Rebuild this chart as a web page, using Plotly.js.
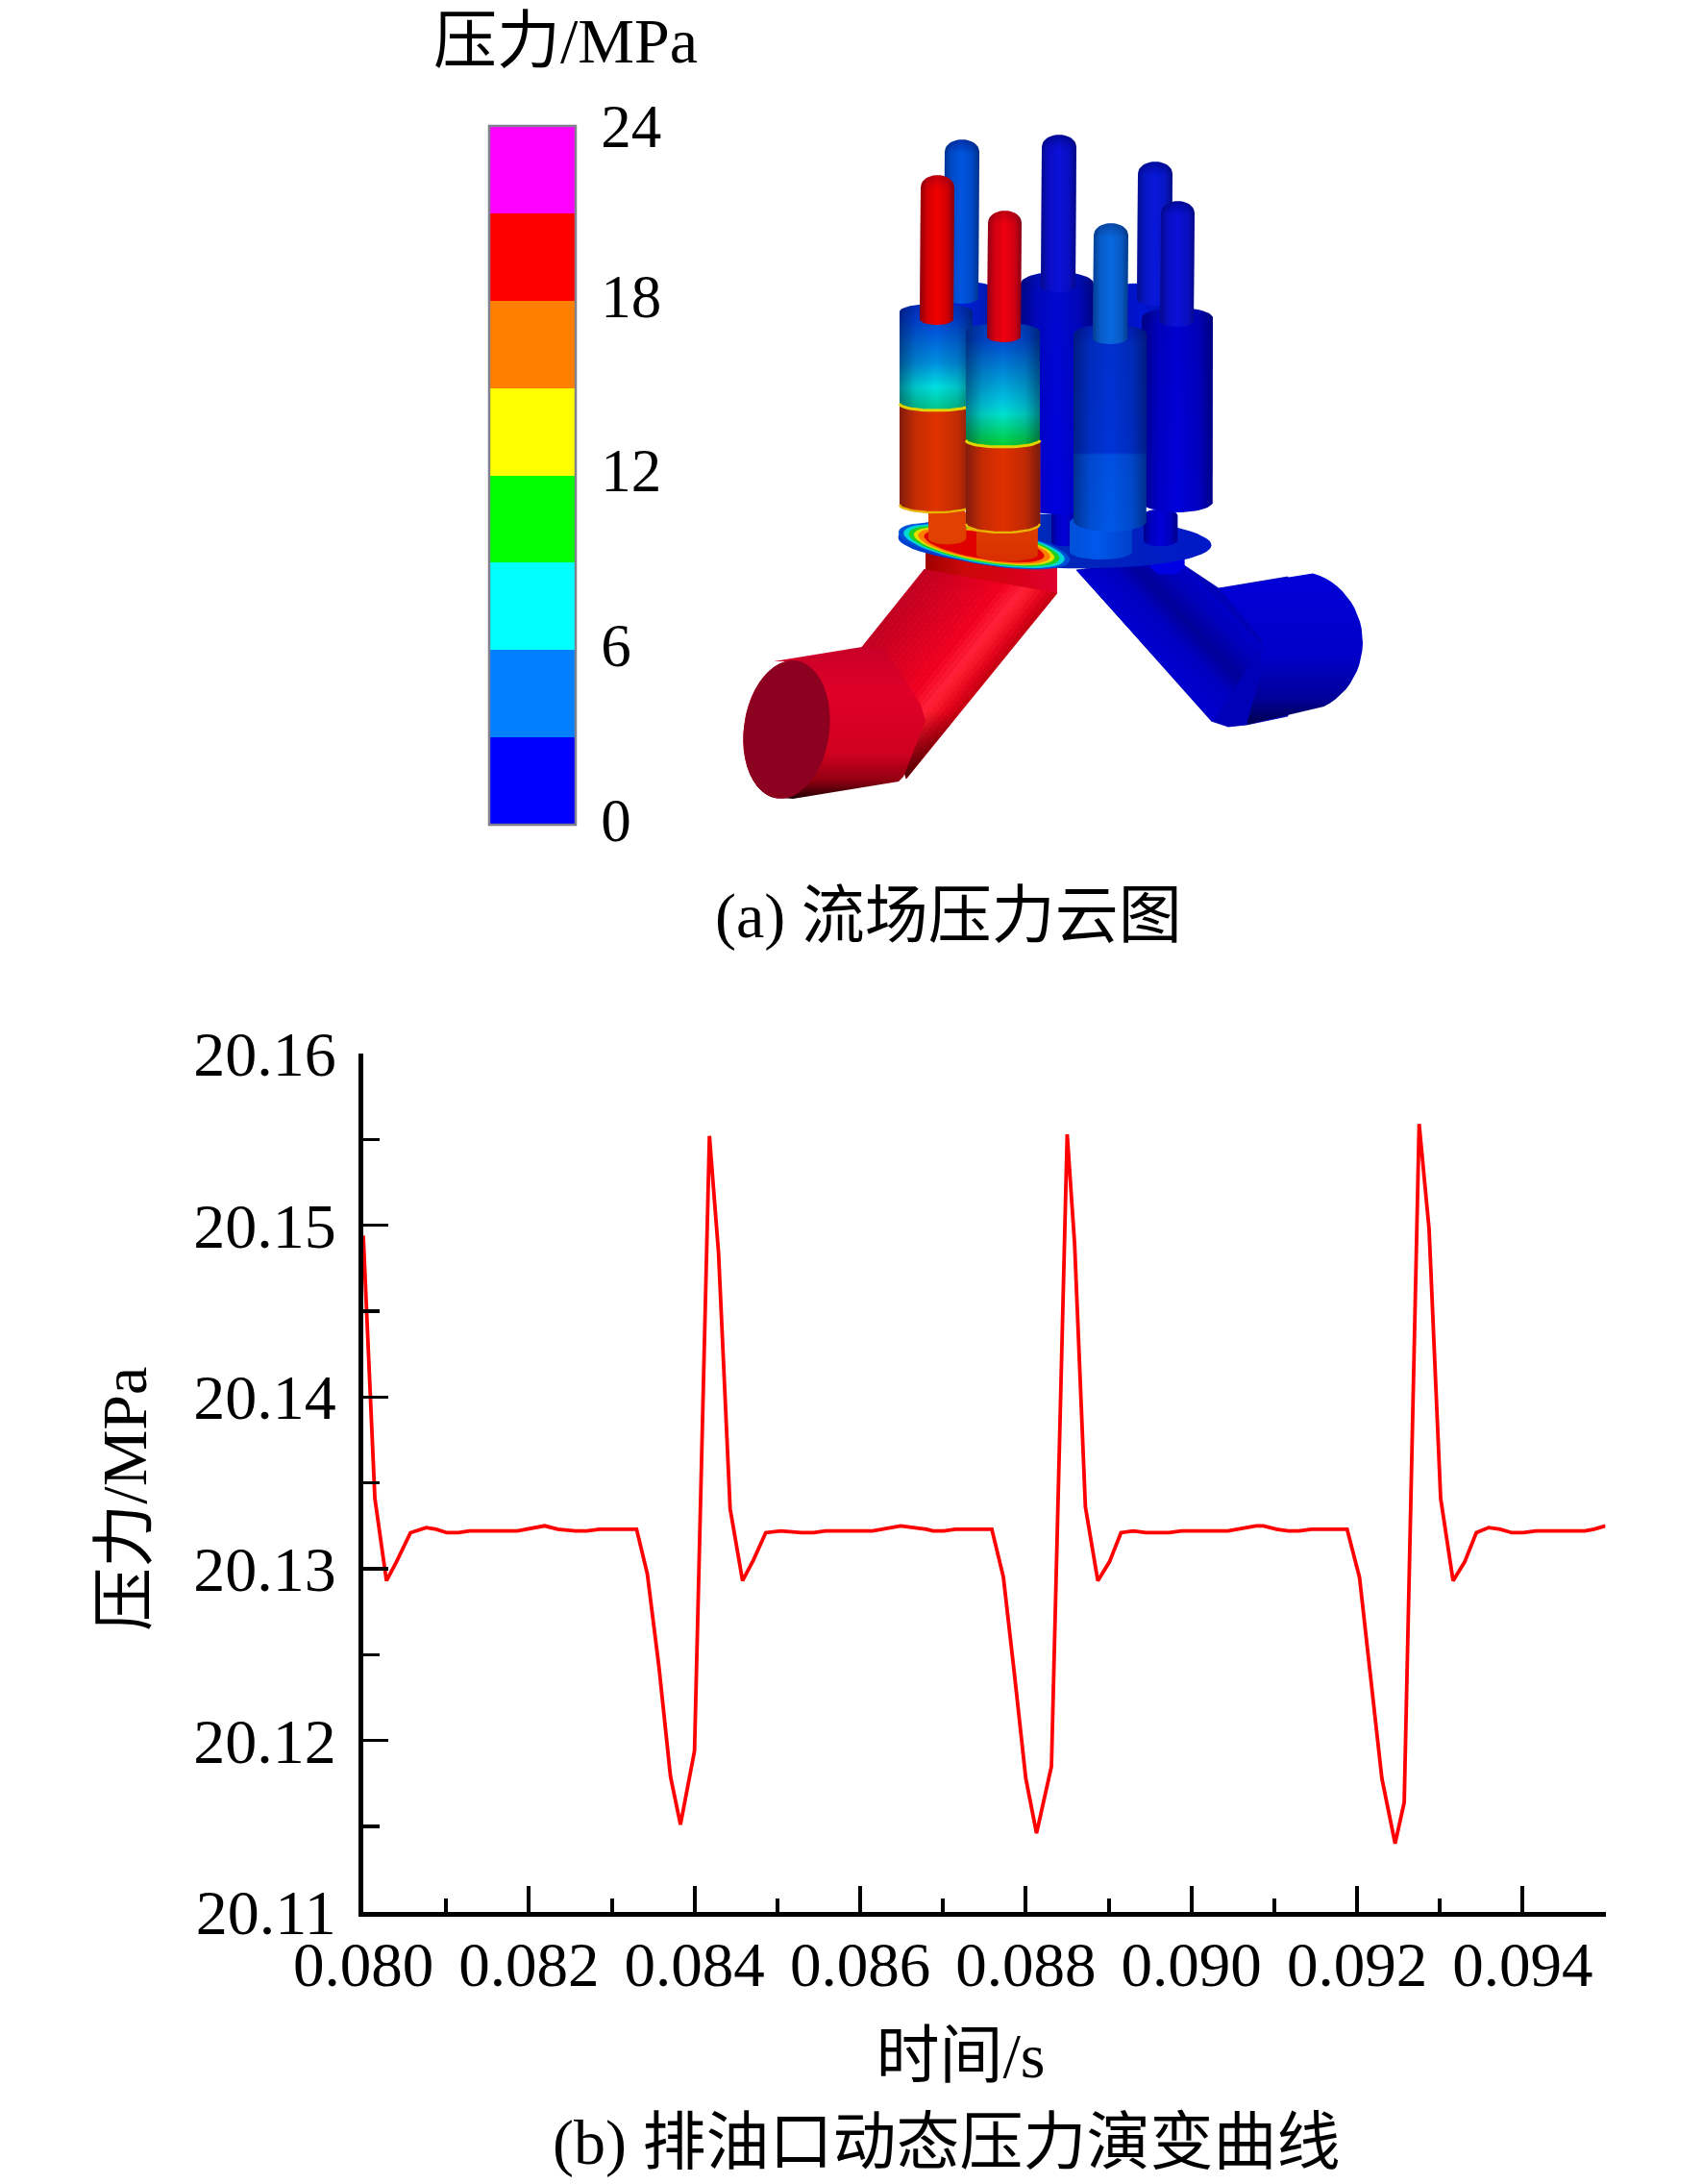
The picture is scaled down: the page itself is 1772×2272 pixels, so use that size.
<!DOCTYPE html>
<html><head><meta charset="utf-8">
<script src="https://cdn.plot.ly/plotly-3.0.1.min.js"></script>
<style>html,body{margin:0;padding:0;background:#fff}</style></head>
<body><div id="chart" style="width:1772px;height:2272px"></div>
<script>
// ---------- chart data ----------
const timeS = [0.0800,0.08014,0.08028,0.08040,0.08057,0.08076,0.08088,0.08101,0.08115,0.08128,0.08186,0.08219,0.08235,0.08256,0.08270,0.08285,0.08330,0.08343,0.08357,0.08371,0.08383,0.08400,0.08418,0.08429,0.08443,
 0.08458,0.08471,0.08486,0.08504,0.08529,0.08544,0.08558,0.08615,0.08649,0.08680,0.08688,0.08701,0.08715,0.08759,0.08773,0.08786,0.08800,0.08813,0.08831,0.08850,0.08859,0.08872,
 0.08887,0.08901,0.08915,0.08930,0.08945,0.08973,0.08988,0.09044,0.09057,0.09078,0.09087,0.09103,0.09117,0.09130,0.09145,0.09188,0.09203,0.09216,0.09230,0.09246,0.09257,0.09275,0.09287,0.09301,
 0.09316,0.09330,0.09344,0.09359,0.09373,0.09387,0.09401,0.09416,0.09475,0.09486,0.0950];
const pressureMPa = [20.1494,20.1341,20.1293,20.1304,20.1321,20.1324,20.1323,20.1321,20.1321,20.1322,20.1322,20.1325,20.1323,20.1322,20.1322,20.1323,20.1323,20.1297,20.1243,20.1179,20.1151,20.1194,20.1552,20.1484,20.1335,
 20.1293,20.1305,20.1321,20.1322,20.1321,20.1321,20.1322,20.1322,20.1325,20.1323,20.1322,20.1322,20.1323,20.1323,20.1295,20.1240,20.1178,20.1146,20.1185,20.1553,20.1489,20.1336,
 20.1293,20.1304,20.1321,20.1322,20.1321,20.1321,20.1322,20.1322,20.1323,20.1325,20.1325,20.1323,20.1322,20.1322,20.1323,20.1323,20.1295,20.1240,20.1178,20.1140,20.1164,20.1559,20.1498,20.1341,
 20.1293,20.1304,20.1321,20.1324,20.1323,20.1321,20.1321,20.1322,20.1322,20.1323,20.1325];
const scaleTicks = [0,6,12,18,24];
const scaleColors = ['#0000ff','#0080ff','#00ffff','#00ff00','#ffff00','#ff8000','#ff0000','#ff00ff'];

const TXT = '"Liberation Serif","Noto Sans CJK SC",serif';
const W = 1772, H = 2272;
const plotL = 378, plotR = 1670.5, plotT = 1096, plotB = 1989.3;

// ---------- helpers for the pressure-contour illustration (pixel axes x2/y2) ----------
const ill = [];
function add(pts, fill){
  const t = {type:'scatter',xaxis:'x2',yaxis:'y2',x:pts.map(p=>p[0]),y:pts.map(p=>p[1]),mode:'lines',fill:'toself',
    hoverinfo:'skip',showlegend:false};
  if (typeof fill === 'string'){ t.fillcolor = fill; t.line = {width:0.8,color:fill}; }
  else { t.fillgradient = fill; t.line = {width:0}; }
  ill.push(t);
}
function stroke(pts,color,width){
  ill.push({type:'scatter',xaxis:'x2',yaxis:'y2',x:pts.map(p=>p[0]),y:pts.map(p=>p[1]),mode:'lines',line:{color,width},hoverinfo:'skip',showlegend:false});
}
// the pixel axis runs downwards, so the stops are written top-first and flipped here
const grad = (type, stops) => ({type, colorscale: type==='vertical' ? stops.map(([t,c])=>[1-t,c]).reverse() : stops});
const SHADE = grad('horizontal',[[0,'rgba(0,0,30,0.42)'],[0.22,'rgba(0,0,30,0.12)'],[0.5,'rgba(0,0,0,0)'],[0.8,'rgba(0,0,30,0.14)'],[1,'rgba(0,0,30,0.45)']]);
function ellipse(cx,cy,rx,ry,rot,a0=0,a1=360,n=48){
  const r = rot*Math.PI/180, out=[];
  for(let i=0;i<=n;i++){ const a=(a0+(a1-a0)*i/n)*Math.PI/180, ex=rx*Math.cos(a), ey=ry*Math.sin(a);
    out.push([cx+ex*Math.cos(r)-ey*Math.sin(r), cy+ex*Math.sin(r)+ey*Math.cos(r)]); }
  return out;
}
function cylPts(xl,xr,top,bot,ry){
  const cx=(xl+xr)/2, rx=(xr-xl)/2;
  return [...ellipse(cx,top+ry,rx,ry,0,180,360,24), ...ellipse(cx,bot-ry,rx,ry,0,0,180,24)];
}
function cyl(xl,xr,top,bot,ry,stops){
  const p=cylPts(xl,xr,top,bot,ry);
  add(p, typeof stops==='string'?stops:grad('vertical',stops));
  add(p, SHADE);
}
// lower, high-pressure part of a piston: its top edge is the contour front
function hotPart(xl,xr,edge,bot,ry,color){
  const cx=(xl+xr)/2, rx=(xr-xl)/2, front=ellipse(cx,edge,rx,7,0,180,0,24), rim=ellipse(cx,bot-ry,rx,ry,0,0,180,24);
  const p=[...front,...rim];
  add(p,color); add(p,SHADE);
  stroke(front,'#e0d400',3); stroke(rim,'#e8b400',2.4);
}
function pin(xl,xr,top,bot,col,dark){
  const cx=(xl+xr)/2, rx=(xr-xl)/2, p=[...ellipse(cx,top+13,rx,13,0,180,360,20),[xr-1,bot],...ellipse(cx-1,bot,rx,6,0,0,180,14).slice(1)];
  const h=bot-top;
  add(p, grad('vertical',[[0,dark],[14/h,col],[1,col]]));
  add(p, SHADE);
}
const hex=c=>[1,3,5].map(i=>parseInt(c.substr(i,2),16));
function mix(stops,t){
  for(let i=1;i<stops.length;i++) if(t<=stops[i][0]){
    const u=(t-stops[i-1][0])/(stops[i][0]-stops[i-1][0]), a=hex(stops[i-1][1]), b=hex(stops[i][1]);
    return 'rgb('+a.map((v,k)=>Math.round(v+(b[k]-v)*u)).join(',')+')';
  }
  return stops[stops.length-1][1];
}
function ribbon(p0,p1,q0,q1,stops,n){
  const L=(a,b,t)=>[a[0]+(b[0]-a[0])*t,a[1]+(b[1]-a[1])*t];
  for(let i=0;i<n;i++){ const t0=i/n,t1=(i+1)/n;
    add([L(p0,q0,t0),L(p1,q1,t0),L(p1,q1,t1),L(p0,q0,t1)], mix(stops,(t0+t1)/2)); }
}

// ---- red outlet pipe (left)
add([[963,575],[963,597],[983,610],[1040,617],[1100,617],[1100,583]], grad('horizontal',[[0,'#a00000'],[0.3,'#cc0808'],[0.7,'#d80018'],[1,'#e00030']]));
ribbon([962,592],[897,673],[1100,617],[943,810],[[0,'#c00020'],[0.35,'#dc0020'],[0.6,'#f00020'],[0.76,'#ff2038'],[0.82,'#f81828'],[0.92,'#e00018'],[1,'#c00010']],26);
add([[897,673],[962,592],[1100,617],[943,810]], grad('vertical',[[0,'rgba(40,0,0,0)'],[0.68,'rgba(40,0,0,0)'],[1,'rgba(40,0,0,0.75)']]));
add([[805,688],[897,673],[920,675],[958,733],[963,750],[940,808],[935,813],[825,831],...ellipse(818,759,44,72,8,90,270,24).slice(1)],
    grad('vertical',[[0,'#c80028'],[0.3,'#e00028'],[0.7,'#d00020'],[0.88,'#900010'],[1,'#200004']]));
add(ellipse(818.5,759,44,72,8), '#8c0020');

// ---- blue outlet pipe (right)
add([[1120,593],[1232,578],[1232,588],[1268,612],[1340,600],[1340,745],[1297,754],[1278,756],[1260,750]],'#0000b8');
ribbon([1120,593],[1262,750],[1232,588],[1313,672],[[0,'#0000d0'],[0.35,'#0000c0'],[0.55,'#000098'],[0.8,'#0000b8'],[1,'#0000c8']],20);
add([[1268,612],...ellipse(1348,668,70,74,0,-75,65,24),[1297,754],[1312,700],[1313,665]],
    grad('vertical',[[0,'#0000d8'],[0.55,'#0000c8'],[0.82,'#00009a'],[1,'#000050']]));
add([[1197,577],[1232,577],[1232,590],[1224,597],[1205,597],[1197,590]],'#0000e4');

// ---- distribution plate with the contour rings
add(ellipse(1097.5,563,163,28,1.5,0,360,72), grad('horizontal',[[0,'#0040d0'],[0.5,'#0028b8'],[1,'#0018c8']]));
[[1,'#0050d8'],[0.94,'#00d8d8'],[0.88,'#20d020'],[0.82,'#e8e000'],[0.77,'#ff8000'],[0.7,'#e00000']].forEach(([s,c])=>add(ellipse(1024,568,90*s,19*s,9.6),c));

// ---- back cylinders and rods
cyl(963,1037,293,440,10,'#0020d8');
pin(983,1019,145,310,'#0055e0','#0030a8');
cyl(1150,1225,295,440,10,'#0014d4');
pin(1184,1220,168,312,'#0818dc','#000ca0');
cyl(1094,1120,530,568,4,'#0000d8');
cyl(1190,1225,530,568,6,'#0000d8');
cyl(1062,1138,283,535,12,[[0,'#0010c0'],[0.1,'#0008d0'],[1,'#0000e0']]);
pin(1084,1120,140,298,'#0a10da','#00089c');
cyl(1188,1262,320,533,11,[[0,'#0008c0'],[0.1,'#0000d0'],[1,'#0000dc']]);
pin(1208,1243,209,334,'#0a10da','#00089c');

// ---- rear red piston
add(cylPts(966,1005,528,566,6),'#e04000');
cyl(936,1012,316,440,8,[[0,'#0030c8'],[0.12,'#0040d8'],[0.5,'#0090e0'],[0.7,'#00e0e0'],[0.88,'#00c890'],[1,'#00c070']]);
hotPart(936,1012,420,533,8,'#e03200');
pin(958,993,182,332,'#f00000','#c00010');

// ---- front-right blue piston
add(cylPts(1113,1178,535,582,8), grad('horizontal',[[0,'#0050d8'],[0.45,'#0058ec'],[1,'#0040c8']]));
cyl(1117,1193,337,553,11,[[0,'#0020c0'],[0.1,'#0030d0'],[0.62,'#0034d8'],[0.63,'#0050e4'],[1,'#0058e8']]);
pin(1138,1174,232,352,'#0868e0','#0848a8');

// ---- front red piston
add(cylPts(1016,1080,535,584,7), grad('vertical',[[0,'#e8c000'],[0.1,'#e04000'],[1,'#d83000']]));
cyl(1005,1082,336,475,9,[[0,'#0040c8'],[0.12,'#0048d0'],[0.6,'#00c8e0'],[0.68,'#00e0d0'],[0.9,'#00d040'],[1,'#10d020']]);
hotPart(1005,1082,458,554,9,'#e03000');
pin(1028,1063,219,350,'#f00010','#c00010');

// ---------- figure ----------
const N = scaleColors.length, stepped = [];
scaleColors.forEach((c,i)=>{ stepped.push([i/N,c]); stepped.push([(i+1)/N,c]); });

const curve = {type:'scatter',mode:'lines',x:timeS,y:pressureMPa,line:{color:'#ff0000',width:3.8},hoverinfo:'skip',showlegend:false};
const scale = {type:'scatter',mode:'markers',xaxis:'x2',yaxis:'y2',x:[-500,-500],y:[-500,-500],hoverinfo:'skip',showlegend:false,
  marker:{size:1,opacity:0,color:[0,24],cmin:0,cmax:24,colorscale:stepped,showscale:true,
    colorbar:{xref:'paper',yref:'paper',x:509/W,xanchor:'left',y:(H-858)/H,yanchor:'bottom',xpad:0,ypad:0,
      len:727,lenmode:'pixels',thickness:90,thicknessmode:'pixels',outlinecolor:'#80808f',outlinewidth:2.5,borderwidth:0,
      tickmode:'array',tickvals:scaleTicks.map(v=>Math.min(v+0.17,24)),ticktext:scaleTicks.map(String),ticks:'outside',ticklen:13,tickcolor:'rgba(255,255,255,0)',
      tickfont:{family:TXT,size:63,color:'#000'}}}};

const ann = (text,x,y,size)=>({text,x,y,xref:'x2',yref:'y2',showarrow:false,xanchor:'center',yanchor:'middle',font:{family:TXT,size,color:'#000'}});

const layout = {
  width:W,height:H,margin:{l:0,r:0,t:0,b:0,autoexpand:false},paper_bgcolor:'#fff',plot_bgcolor:'rgba(0,0,0,0)',showlegend:false,
  font:{family:TXT,color:'#000'},
  xaxis:{domain:[plotL/W,plotR/W],range:[0.08,0.095],dtick:0.002,tick0:0.08,tickformat:'.3f',anchor:'y',
    showline:true,linecolor:'#000',linewidth:5,ticks:'inside',ticklen:27,tickwidth:4,tickcolor:'#000',showgrid:false,zeroline:false,
    tickfont:{family:TXT,size:65,color:'#000'},ticklabelstandoff:-6,
    minor:{dtick:0.001,tick0:0.08,ticks:'inside',ticklen:14,tickwidth:4,tickcolor:'#000',showgrid:false},
    title:{text:'时间/s\u00a0\u00a0\u00a0\u200b',font:{family:TXT,size:66,color:'#000'},standoff:37}},
  yaxis:{domain:[(H-plotB)/H,(H-plotT)/H],range:[20.11,20.16],dtick:0.01,tick0:20.11,tickformat:'.2f',anchor:'x',
    showline:true,linecolor:'#000',linewidth:5,ticks:'inside',ticklen:26,tickwidth:3.4,tickcolor:'#000',showgrid:false,zeroline:false,
    tickfont:{family:TXT,size:66,color:'#000'},ticklabelstandoff:10,
    minor:{dtick:0.005,tick0:20.11,ticks:'inside',ticklen:17,tickwidth:3.4,tickcolor:'#000',showgrid:false},
    title:{text:'压力/MPa\u00a0\u00a0\u200b',font:{family:TXT,size:66,color:'#000'},standoff:29}},
  xaxis2:{domain:[0,1],range:[0,W],visible:false,anchor:'y2',fixedrange:true},
  yaxis2:{domain:[0,1],range:[H,0],visible:false,anchor:'x2',fixedrange:true},
  annotations:[ann('压力/MPa',588,42,66),ann('(a) 流场压力云图',987,953,66),ann('(b) 排油口动态压力演变曲线',984,2229,66)]
};
Plotly.newPlot('chart',[...ill,scale,curve],layout,{staticPlot:true,displayModeBar:false});
</script></body></html>
